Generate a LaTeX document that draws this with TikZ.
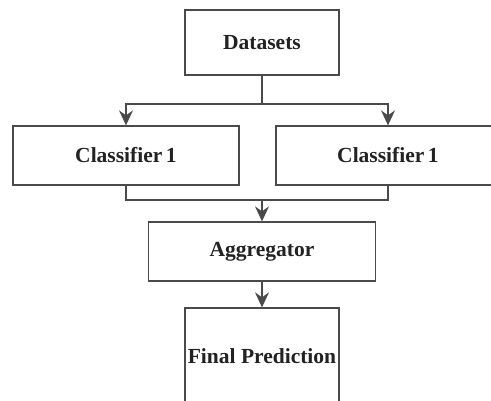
\documentclass[tikz,border=0pt]{standalone}
\usepackage{fontspec}
\setmainfont{Liberation Serif}
\usetikzlibrary{arrows.meta}
\definecolor{edgegray}{HTML}{4A4A4A}
\definecolor{txtgray}{HTML}{222222}
\begin{document}
\begin{tikzpicture}[x=1pt,y=1pt,
    box/.style={draw=edgegray,line width=1.3pt,fill=white,inner sep=0pt,
      text=txtgray,font=\fontsize{21.5}{25}\selectfont\bfseries},
    link/.style={draw=edgegray,line width=1.3pt},
    arr/.style={link,-{Stealth[length=15pt,width=14pt,inset=5pt]}}]
  \useasboundingbox (0,0) rectangle (491,-400);
  \clip (0,0) rectangle (491,-400);
  \node[box,minimum width=154,minimum height=65] (data) at (262,-42.5) {Datasets};
  \node[box,minimum width=226,minimum height=59] (clsA) at (126,-155.5) {Classifier\,1};
  \node[box,minimum width=224,minimum height=59] (clsB) at (388,-155.5) {Classifier\,1};
  \node[box,minimum width=227,minimum height=59] (agg) at (262,-251.5) {Aggregator};
  \node[box,minimum width=154,minimum height=96,text depth=0pt] (final) at (262,-356) {Final Prediction};
  \coordinate (split) at (262,-104);
  \coordinate (join) at (262,-200);
  \draw[link] (data.south) -- (split);
  \draw[arr] (split) -| (clsA.north);
  \draw[arr] (split) -| (clsB.north);
  \draw[link] (clsA.south) |- (join) -| (clsB.south);
  \draw[arr] (join) -- (agg.north);
  \draw[arr] (agg.south) -- (final.north);
\end{tikzpicture}
\end{document}
